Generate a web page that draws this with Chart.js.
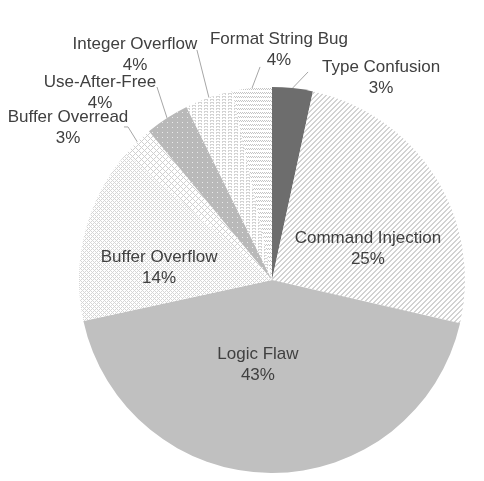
<!DOCTYPE html>
<html>
<head>
<meta charset="utf-8">
<script src="https://cdn.jsdelivr.net/npm/chart.js@4.4.1/dist/chart.umd.min.js"></script>
<style>
  html, body { margin: 0; padding: 0; background: #ffffff; }
  #wrap { width: 484px; height: 481px; }
</style>
</head>
<body>
<div id="wrap"><canvas id="c" width="484" height="481"></canvas></div>
<script>
// ---- data ----
const categories = ['Type Confusion', 'Command Injection', 'Logic Flaw', 'Buffer Overflow',
                    'Buffer Overread', 'Use-After-Free', 'Integer Overflow', 'Format String Bug'];
// slice sizes (labels show the rounded figures)
const shares = [3.4, 25.2, 43.0, 14.8, 2.6, 3.7, 4.0, 3.3];
const shareLabels = ['3%', '25%', '43%', '14%', '3%', '4%', '4%', '4%'];

// ---- label placement (in units of the pie radius, relative to centre) ----
const labelX = [0.565, 0.497, -0.073, -0.585, -1.057, -0.891, -0.710, 0.036];
const labelY = [-1.049, -0.161, 0.438, -0.062, -0.788, -0.969, -1.166, -1.194];
const leaderX = [0.187, null, null, null, -0.746, -0.596, -0.389, -0.062];
const leaderY = [-1.078, null, null, null, -0.793, -1.000, -1.192, -1.104];
const elbowX = [null, null, null, null, -0.767, null, null, null];

// ---- fill patterns ----
function makePattern(size, bg, fn, fg) {
  const cv = document.createElement('canvas');
  cv.width = size; cv.height = size;
  const g = cv.getContext('2d');
  g.fillStyle = bg; g.fillRect(0, 0, size, size);
  g.fillStyle = fg;
  for (let y = 0; y < size; y++) for (let x = 0; x < size; x++) if (fn(x, y)) g.fillRect(x, y, 1, 1);
  return g.createPattern(cv, 'repeat');
}
const fills = [
  '#6d6d6d',
  makePattern(5, '#ffffff', (x, y) => ((x + y) % 5) < 2, '#d3d3d3'),
  '#c0c0c0',
  makePattern(4, '#ffffff', (x, y) => ((x + y) % 4 === 0) || (((x - y) % 4 + 4) % 4 === 0), '#d6d6d6'),
  makePattern(6, '#ffffff', (x, y) => ((x + y) % 6 === 0) || (((x - y) % 6 + 6) % 6 === 0), '#cfcfcf'),
  makePattern(5, '#b9b9b9', (x, y) => (x === 2 && y === 2), '#ebebeb'),
  makePattern(6, '#ffffff', (x, y) => (y % 3 === 0 && x % 6 < 4) || (y % 3 === 1 && (x % 6 === 0 || x % 6 === 3)), '#d4d4d4'),
  makePattern(4, '#ffffff', (x, y) => (y % 4 === 0 && x % 2 === 0) || (y % 4 === 1 && x % 2 === 1), '#c4c4c4')
];

const labelPlugin = {
  id: 'sliceLabels',
  afterDatasetsDraw(chart) {
    const ctx = chart.ctx;
    const meta = chart.getDatasetMeta(0);
    ctx.save();
    meta.data.forEach((arc, i) => {
      const p = arc.getProps(['x', 'y', 'outerRadius', 'startAngle', 'endAngle'], true);
      const R = p.outerRadius;
      const mid = (p.startAngle + p.endAngle) / 2;
      const lx = p.x + labelX[i] * R;
      const ly = p.y + labelY[i] * R;
      if (leaderX[i] !== null) {
        ctx.strokeStyle = '#a6a6a6';
        ctx.lineWidth = 1;
        ctx.beginPath();
        ctx.moveTo(p.x + Math.cos(mid) * R, p.y + Math.sin(mid) * R);
        const ax = p.x + leaderX[i] * R, ay = p.y + leaderY[i] * R;
        ctx.lineTo(ax, ay);
        if (elbowX[i] !== null) ctx.lineTo(p.x + elbowX[i] * R, ay);
        ctx.stroke();
      }
      ctx.fillStyle = '#404040';
      ctx.font = '17px "Liberation Sans", Arial, sans-serif';
      ctx.textAlign = 'center';
      ctx.textBaseline = 'middle';
      ctx.fillText(categories[i], lx, ly - 10.5);
      ctx.fillText(shareLabels[i], lx, ly + 10.5);
    });
    ctx.restore();
  }
};

new Chart(document.getElementById('c'), {
  type: 'pie',
  data: {
    labels: categories,
    datasets: [{
      data: shares,
      backgroundColor: fills,
      borderWidth: 0
    }]
  },
  options: {
    responsive: false,
    animation: false,
    layout: { padding: { left: 79, right: 19, top: 87, bottom: 8 } },
    plugins: {
      legend: { display: false },
      tooltip: { enabled: false }
    }
  },
  plugins: [labelPlugin]
});
</script>
</body>
</html>
